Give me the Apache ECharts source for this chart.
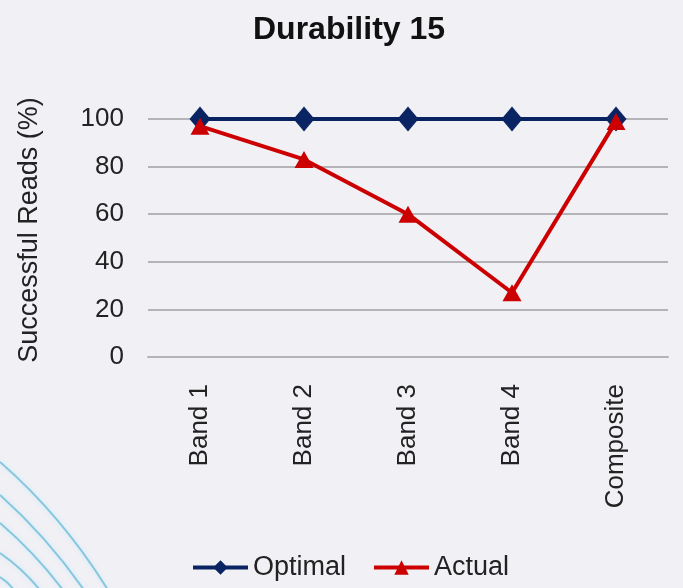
<!DOCTYPE html>
<html>
<head>
<meta charset="utf-8">
<script src="https://cdn.jsdelivr.net/npm/echarts@6/dist/echarts.min.js"></script>
<style>
html,body{margin:0;padding:0;background:#f0f0f5;}
#chart{width:683px;height:588px;}
</style>
</head>
<body>
<div id="chart"></div>
<script>
var categories = ['Band 1', 'Band 2', 'Band 3', 'Band 4', 'Composite'];
var optimal = [100, 100, 100, 100, 100];
var actual = [97, 83, 60, 27, 99];
var yTicks = [0, 20, 40, 60, 80, 100];

var FONT = '"Liberation Sans", Arial, sans-serif';
var chart = echarts.init(document.getElementById('chart'), null, {renderer: 'canvas'});

function curve(x0, y0, cx, cy, x1, y1) {
  return {
    type: 'bezierCurve',
    silent: true,
    z: -10,
    shape: {x1: x0, y1: y0, cpx1: cx, cpy1: cy, x2: x1, y2: y1},
    style: {stroke: '#86c6de', lineWidth: 2, fill: null, shadowBlur: 4, shadowColor: 'rgba(200,235,248,1)'}
  };
}

chart.setOption({
  backgroundColor: '#f0f0f5',
  animation: false,
  graphic: [
    curve(0, 462, 62, 516, 108, 590),
    curve(0, 495, 47, 537, 84, 590),
    curve(0, 523, 35, 553, 63, 590),
    curve(0, 553, 22, 568, 40, 590),
    curve(0, 577, 8, 582, 14, 590)
  ],
  title: {
    text: 'Durability 15',
    left: 248,
    top: 9,
    textStyle: {fontFamily: FONT, fontSize: 32, fontWeight: 'bold', color: '#111'}
  },
  legend: {
    left: 186,
    bottom: 2,
    itemWidth: 55,
    itemHeight: 18,
    itemGap: 26,
    lineStyle: {width: 4},
    textStyle: {fontFamily: FONT, fontSize: 27, color: '#222', padding: [0, 0, 0, 0]},
    data: ['Optimal', 'Actual']
  },
  grid: {left: 148, right: 15, top: 119, bottom: 231, containLabel: false, outerBoundsMode: 'none'},
  xAxis: {
    type: 'category',
    data: categories,
    boundaryGap: true,
    axisLine: {show: true, lineStyle: {color: '#b4b4b8', width: 2}},
    axisTick: {show: false},
    axisLabel: {rotate: 90, margin: 27, fontFamily: FONT, fontSize: 26, color: '#222'}
  },
  yAxis: {
    type: 'value',
    min: 0,
    max: 100,
    interval: 20,
    name: 'Successful Reads (%)',
    nameLocation: 'middle',
    nameGap: 105,
    nameRotate: 90,
    nameTextStyle: {fontFamily: FONT, fontSize: 27, color: '#222', padding: [0, 0, 0, 16]},
    axisLine: {show: false},
    axisTick: {show: false},
    axisLabel: {
      margin: 24,
      fontFamily: FONT,
      fontSize: 26,
      color: '#222',
      formatter: function (v) { return yTicks.indexOf(v) >= 0 ? String(v) : ''; }
    },
    splitLine: {show: true, lineStyle: {color: '#b4b4b8', width: 2}}
  },
  series: [
    {
      name: 'Optimal',
      type: 'line',
      data: optimal,
      symbol: 'diamond',
      symbolSize: [21, 25],
      color: '#0a2463',
      lineStyle: {color: '#0a2463', width: 4},
      itemStyle: {color: '#0a2463'}
    },
    {
      name: 'Actual',
      type: 'line',
      data: actual,
      symbol: 'triangle',
      symbolSize: [19, 17],
      color: '#cc0000',
      lineStyle: {color: '#cc0000', width: 4},
      itemStyle: {color: '#cc0000'}
    }
  ]
});
</script>
</body>
</html>
